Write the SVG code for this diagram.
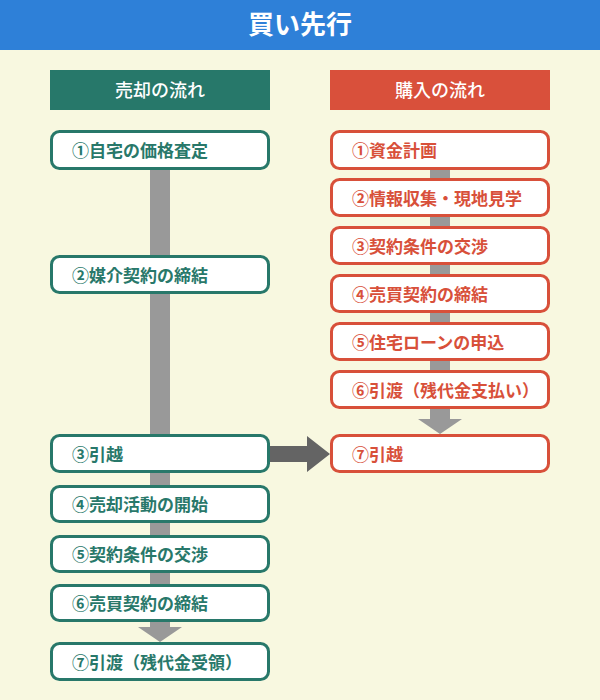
<svg xmlns="http://www.w3.org/2000/svg" width="600" height="700" viewBox="0 0 600 700">
<style>
.t{font-family:"Noto Sans CJK JP","Noto Sans",sans-serif;font-weight:bold;font-size:17px}
.g rect{fill:#fff;stroke:#28786a;stroke-width:3}
.g text{fill:#28786a}
.r rect{fill:#fff;stroke:#d8503a;stroke-width:3}
.r text{fill:#d8503a}
.hd{font-family:"Noto Sans CJK JP","Noto Sans",sans-serif;font-size:18px;fill:#fff;font-weight:500}
.bar{fill:#999999}
</style>
<rect x="0" y="0" width="600" height="700" fill="#f8f8e0"/>
<rect x="0" y="0" width="600" height="50" fill="#2e80d8"/>
<text x="300" y="34" text-anchor="middle" font-family="Noto Sans CJK JP, sans-serif" font-weight="bold" font-size="26" fill="#fff">買い先行</text>

<g id="header-sell">
<rect x="50" y="70" width="220" height="40" fill="#27786a"/>
<text class="hd" x="160" y="97" text-anchor="middle">売却の流れ</text>
</g>
<g id="header-buy">
<rect x="330" y="70" width="220" height="40" fill="#d9503b"/>
<text class="hd" x="440" y="97" text-anchor="middle">購入の流れ</text>
</g>

<g id="connectors">
<rect class="bar" x="150" y="168" width="20" height="460"/>
<polygon class="bar" points="138,627 182,627 160,642"/>
<rect class="bar" x="430" y="168" width="20" height="252"/>
<polygon class="bar" points="418,419 462,419 440,434"/>
<polygon fill="#646464" points="268,446 307,446 307,436 330,454 307,472 307,462 268,462"/>
</g>

<g class="t g">
<g id="s1"><rect x="51.5" y="131.5" width="217" height="37" rx="8"/><text x="72" y="157">①自宅の価格査定</text></g>
<g id="s2"><rect x="51.5" y="256.5" width="217" height="36" rx="8"/><text x="72" y="282">②媒介契約の締結</text></g>
<g id="s3"><rect x="51.5" y="435.5" width="217" height="36" rx="8"/><text x="72" y="461">③引越</text></g>
<g id="s4"><rect x="51.5" y="486.5" width="217" height="35" rx="8"/><text x="72" y="511">④売却活動の開始</text></g>
<g id="s5"><rect x="51.5" y="536.5" width="217" height="35" rx="8"/><text x="72" y="561">⑤契約条件の交渉</text></g>
<g id="s6"><rect x="51.5" y="585.5" width="217" height="35" rx="8"/><text x="72" y="610">⑥売買契約の締結</text></g>
<g id="s7"><rect x="51.5" y="643.5" width="217" height="36" rx="8"/><text x="72" y="669">⑦引渡（残代金受領）</text></g>
</g>

<g class="t r">
<g id="b1"><rect x="331.5" y="131.5" width="217" height="37" rx="8"/><text x="352" y="157">①資金計画</text></g>
<g id="b2"><rect x="331.5" y="179.5" width="217" height="36" rx="8"/><text x="352" y="205">②情報収集・現地見学</text></g>
<g id="b3"><rect x="331.5" y="227.5" width="217" height="36" rx="8"/><text x="352" y="253">③契約条件の交渉</text></g>
<g id="b4"><rect x="331.5" y="275.5" width="217" height="36" rx="8"/><text x="352" y="301">④売買契約の締結</text></g>
<g id="b5"><rect x="331.5" y="323.5" width="217" height="36" rx="8"/><text x="352" y="349">⑤住宅ローンの申込</text></g>
<g id="b6"><rect x="331.5" y="371.5" width="217" height="36" rx="8"/><text x="352" y="397">⑥引渡（残代金支払い）</text></g>
<g id="b7"><rect x="331.5" y="435.5" width="217" height="36" rx="8"/><text x="352" y="461">⑦引越</text></g>
</g>
</svg>
